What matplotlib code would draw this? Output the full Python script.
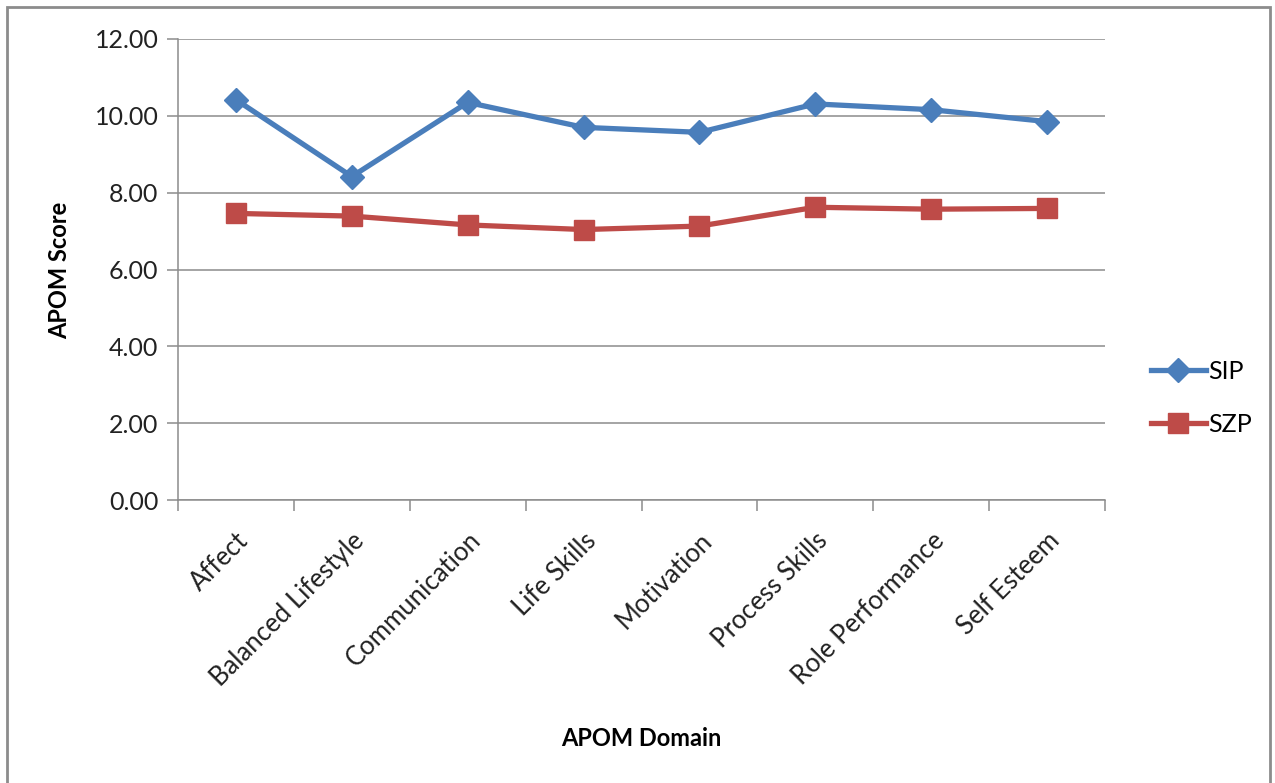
import matplotlib.pyplot as plt
from matplotlib.patches import Rectangle
import numpy as np

# APOM domänerna och medelvärden per grupp
domains = ['Affect', 'Balanced Lifestyle', 'Communication', 'Life Skills',
           'Motivation', 'Process Skills', 'Role Performance', 'Self Esteem']
sip = [10.42, 8.42, 10.35, 9.70, 9.57, 10.31, 10.16, 9.85]
szp = [7.46, 7.39, 7.16, 7.04, 7.13, 7.62, 7.57, 7.59]
y_ticks = [0, 2, 4, 6, 8, 10, 12]

plt.rcParams['font.family'] = ['Lato', 'DejaVu Sans']

W, H = 1275, 783
fig = plt.figure(figsize=(W / 100, H / 100), dpi=100)
ax = fig.add_axes([178 / W, 1 - 500 / H, (1105 - 178) / W, (500 - 39) / H])

x = np.arange(len(domains))
ax.plot(x, sip, color='#4A7EBB', lw=3.8, marker='D', ms=12, label='SIP', zorder=3)
ax.plot(x, szp, color='#BE4B48', lw=3.8, marker='s', ms=14, label='SZP', zorder=3)

ax.set_xlim(-0.5, len(domains) - 0.5)
ax.set_ylim(0, 12)
ax.set_yticks(y_ticks)
ax.set_yticklabels([f'{v:.2f}' for v in y_ticks], fontsize=18, color='#222222')
ax.yaxis.grid(True, color='#8c8c8c', lw=1.1)
ax.set_axisbelow(True)

# kategoriskiljelinjer som ticks, etiketterna på mitten
ax.set_xticks(np.arange(-0.5, len(domains), 1.0))
ax.set_xticklabels([])
ax.set_xticks(x, minor=True)
ax.tick_params(axis='x', which='major', length=8, color='#8c8c8c', width=1.1)
ax.tick_params(axis='x', which='minor', length=0)
ax.tick_params(axis='y', length=8, color='#8c8c8c', width=1.1, pad=6)
ax.set_xticklabels(domains, minor=True)
for lbl in ax.get_xticklabels(minor=True):
    lbl.set_rotation(45)
    lbl.set_ha('right')
    lbl.set_va('top')
    lbl.set_rotation_mode('anchor')
    lbl.set_fontsize(18.5)
    lbl.set_color('#222222')
ax.tick_params(axis='x', which='minor', pad=20)

for side in ['top', 'right']:
    ax.spines[side].set_visible(False)
for side in ['left', 'bottom']:
    ax.spines[side].set_color('#8c8c8c')
    ax.spines[side].set_linewidth(1.1)

fig.text(60 / W, 1 - 270 / H, 'APOM Score', rotation=90, fontsize=17, fontweight='bold',
         ha='center', va='center')
fig.text(641 / W, 1 - 738 / H, 'APOM Domain', fontsize=17, fontweight='bold',
         ha='center', va='center')

ax.legend(loc='center left', bbox_to_anchor=((1138 - 178) / 927, (500 - 398) / 461),
          frameon=False, fontsize=18, handlelength=2.2, labelspacing=1.2,
          handletextpad=0.1, borderpad=0.0)

# ram runt hela diagrammet
fig.patches.append(Rectangle((7 / W, -0.01), (1270 - 7) / W, 1 - 7 / H + 0.01,
                             transform=fig.transFigure, fill=False,
                             edgecolor='#8c8c8c', lw=2))

fig.savefig('out.png', dpi=100)
